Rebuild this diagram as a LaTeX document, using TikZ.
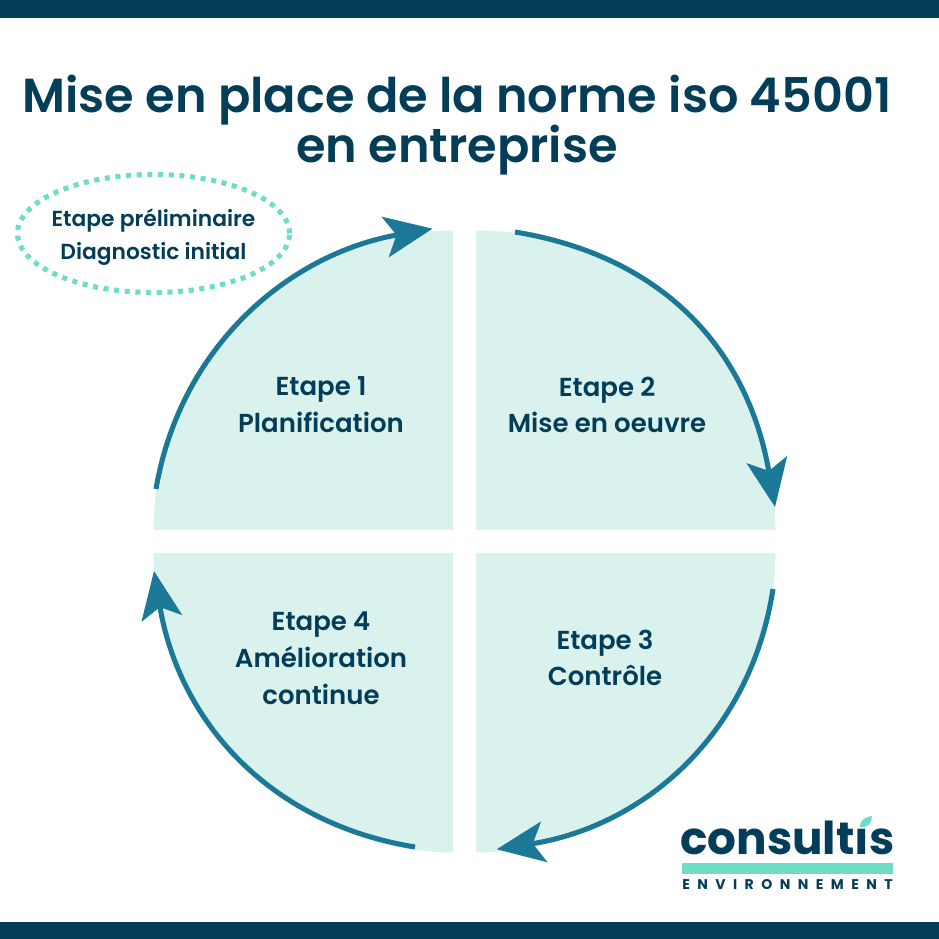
\documentclass[tikz,border=0pt]{standalone}
\usepackage{fontspec}
\setmainfont{Poppins}[BoldFont={Poppins SemiBold}]
\newfontfamily\logofont{Poppins}[BoldFont={Poppins Bold}]
\newfontfamily\spacedfont{Poppins}[BoldFont={Poppins Bold},LetterSpace=53]
\usetikzlibrary{arrows.meta,shapes.geometric}
\definecolor{navy}{HTML}{033D58}
\definecolor{teal}{HTML}{1B7896}
\definecolor{pale}{HTML}{D9F2EE}
\definecolor{mint}{HTML}{6FDCC5}
\tikzset{
    steplabel/.style={text=navy,align=center,font=\bfseries\fontsize{18.5}{26.2}\selectfont},
    cyclearrow/.style={draw=teal,line width=3.6pt,-{Stealth[length=34pt,width=29pt,inset=8pt]}},
}
\begin{document}
\begin{tikzpicture}[x=0.25mm,y=0.25mm]
    \useasboundingbox (0,0) rectangle (939,939);
    \fill[navy] (0,921) rectangle (939,939);
    \fill[navy] (0,0) rectangle (939,17);
    % quarters
    \begin{scope}[shift={(464.5,397.5)}]
        \foreach \a/\k in {0/166,90/160,180/158,270/158}
            \fill[pale,rotate=\a] (311,11.5) .. controls (311,11.5+\k) and (11.5+\k,311) .. (11.5,311) -- (11.5,11.5) -- cycle;
        \draw[cyclearrow] (-308.5,52.5) .. controls (-284.1,195.5) and (-175.3,287.6) .. (-32,312.8);
        \draw[cyclearrow] (50.5,309.5) .. controls (203.5,284.5) and (284.1,187.2) .. (310.5,34.5);
        \draw[cyclearrow] (308.5,-47.5) .. controls (286,-193.7) and (178.4,-284.9) .. (32.2,-307.8);
        \draw[cyclearrow] (-49.5,-305.5) .. controls (-197.5,-281.5) and (-286,-177.5) .. (-310.5,-29.5);
    \end{scope}
    % title
    \node (title) [text=navy,align=center,font=\bfseries\fontsize{34}{36}\selectfont] at (457,814) {Mise en place de la norme iso 45001\\en entreprise};
    \node (prelimring) [ellipse,draw=mint,line width=3.6pt,dash pattern=on 3.6pt off 4pt,inner sep=0pt,minimum width=68mm,minimum height=29.5mm] at (153.5,705.5) {};
    \node (prelim) [steplabel,font=\bfseries\fontsize{15.5}{23.4}\selectfont] at (153.5,701.5) {Etape préliminaire\\Diagnostic initial};
    \node (etapeA) [steplabel] at (321,534) {Etape 1\\Planification};
    \node (etapeB) [steplabel] at (607,534) {Etape 2\\Mise en oeuvre};
    \node (etapeC) [steplabel] at (605,281) {Etape 3\\Contrôle};
    \node (etapeD) [steplabel] at (321,281) {Etape 4\\Amélioration\\continue};
    % logo
    \node (logoname) [text=navy,font=\logofont\bfseries\fontsize{32.2}{34}\selectfont,inner sep=0pt] at (787.5,101) {consultıs};
    \fill[mint] (682,65) rectangle (893,76);
    \node (logosub) [text=navy,font=\spacedfont\bfseries\fontsize{10}{11}\selectfont,inner sep=0pt] at (787.5,54) {ENVIRONNEMENT};
    \fill[mint] (860,112) .. controls (860,120) and (866,122) .. (872,123) .. controls (872,116) and (868,111) .. (860,112) -- cycle;
\end{tikzpicture}
\end{document}
